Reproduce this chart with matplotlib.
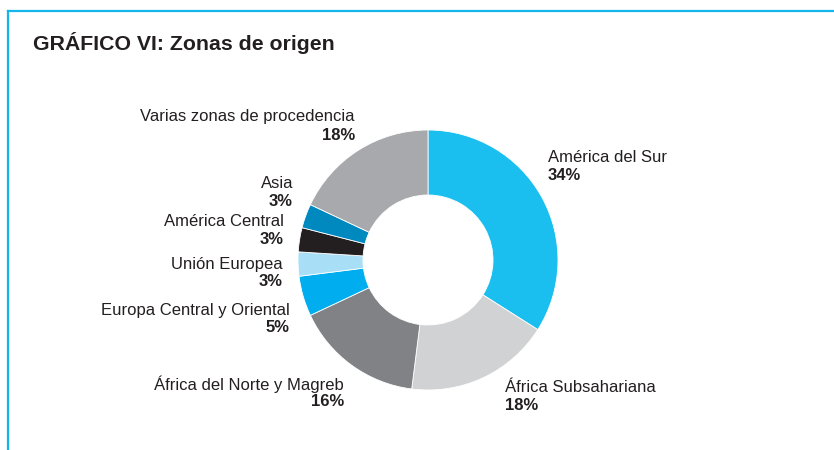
import matplotlib.pyplot as plt
from matplotlib.lines import Line2D

# data
zonas = ["América del Sur", "África Subsahariana", "África del Norte y Magreb",
         "Europa Central y Oriental", "Unión Europea", "América Central", "Asia",
         "Varias zonas de procedencia"]
porcentajes = [34, 18, 16, 5, 3, 3, 3, 18]
colores = ["#1ABFF0", "#D0D2D3", "#808285", "#00AEEF", "#A8DFF7", "#231F20",
           "#0089BF", "#A7A9AC"]

# label layout in pixels (x, y of first line, alignment)
label_pos = [(548, 157, "left"), (505, 387, "left"), (344, 384, "right"),
             (290, 310, "right"), (283, 264, "right"), (284, 222, "right"),
             (293, 183, "right"), (355, 117, "right")]

W, H = 834, 450
fig = plt.figure(figsize=(W / 100, H / 100), dpi=100)
ax = fig.add_axes([0, 0, 1, 1])
ax.set_xlim(0, W)
ax.set_ylim(0, H)
ax.set_aspect("equal")
ax.axis("off")

ax.pie(porcentajes, colors=colores, startangle=90, counterclock=False,
       center=(428, H - 260), radius=130,
       wedgeprops=dict(width=65, edgecolor="white", linewidth=0.6))
ax.set_xlim(0, W)
ax.set_ylim(0, H)

fam = ["Liberation Sans", "DejaVu Sans"]
for z, p, (x, y, ha) in zip(zonas, porcentajes, label_pos):
    ax.text(x, H - y, z, ha=ha, va="center", fontsize=12, family=fam,
            color="#231F20")
    ax.text(x, H - y - 18, f"{p}%", ha=ha, va="center", fontsize=12,
            fontweight="bold", family=fam, color="#231F20")

# title and frame
fig.text(33 / W, 1 - 43 / H, "GRÁFICO VI: Zonas de origen", ha="left",
         va="center", fontsize=15.3, fontweight="bold",
         family=fam, color="#231F20")
fig.add_artist(Line2D([8 / W, 1], [1 - 11 / H, 1 - 11 / H], color="#14B5EA",
                      lw=1.6, transform=fig.transFigure))
fig.add_artist(Line2D([8 / W, 8 / W], [0, 1 - 11 / H], color="#14B5EA",
                      lw=1.6, transform=fig.transFigure))

fig.savefig("out.png", dpi=100)
